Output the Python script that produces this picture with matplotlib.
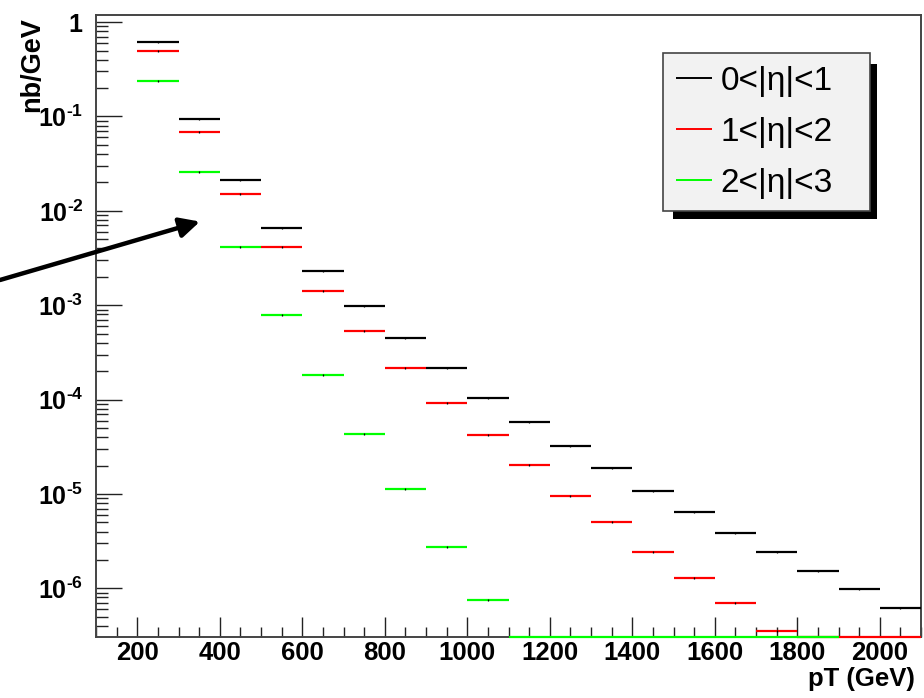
import numpy as np
import matplotlib
matplotlib.use("Agg")
import matplotlib.pyplot as plt
from matplotlib.ticker import FixedLocator, MultipleLocator, LogLocator, FuncFormatter, NullFormatter
from matplotlib.patches import Rectangle

# ---------------- data ----------------
bin_edges = [200, 300, 400, 500, 600, 700, 800, 900, 1000, 1100, 1200, 1300,
             1400, 1500, 1600, 1700, 1800, 1900, 2000, 2100]

eta01 = [0.62, 0.0946, 0.0213, 0.00651, 0.00232, 0.00098, 4.45e-4, 2.16e-4,
         1.05e-4, 5.74e-5, 3.25e-5, 1.88e-5, 1.07e-5, 6.49e-6, 3.89e-6,
         2.43e-6, 1.54e-6, 9.93e-7, 6.2e-7]
eta12 = [0.489, 0.0677, 0.01507, 0.00414, 0.0014, 5.33e-4, 2.16e-4, 9.2e-5,
         4.18e-5, 2.04e-5, 9.5e-6, 5.0e-6, 2.43e-6, 1.29e-6, 6.94e-7,
         3.5e-7, 0.0, 0.0, 0.0]
eta23 = [0.239, 0.0258, 0.00414, 7.87e-4, 1.82e-4, 4.32e-5, 1.14e-5, 2.72e-6,
         7.46e-7, 0.0, 0.0, 0.0, 0.0, 0.0, 0.0, 0.0, 0.0, np.nan, np.nan]

series_labels = ["0<|η|<1", "1<|η|<2", "2<|η|<3"]
series_colors = ["#000000", "#ff0000", "#00ff00"]

x_major_ticks = [200, 400, 600, 800, 1000, 1200, 1400, 1600, 1800, 2000]
y_major_ticks = [1e-6, 1e-5, 1e-4, 1e-3, 1e-2, 1e-1, 1.0]
xlim = (100, 2100)
ylim = (3.05e-7, 1.19)

# ---------------- style ----------------
plt.rcParams['font.family'] = ['Liberation Sans', 'DejaVu Sans']
plt.rcParams['mathtext.fontset'] = 'custom'
plt.rcParams['mathtext.rm'] = 'Liberation Sans:bold'
plt.rcParams['mathtext.bf'] = 'Liberation Sans:bold'
plt.rcParams['mathtext.it'] = 'Liberation Sans:italic'

W, H = 924, 698
fig = plt.figure(figsize=(W / 100, H / 100), dpi=100)
ax_l, ax_r, ax_t, ax_b = 96, 921, 15, 637
ax = fig.add_axes([ax_l / W, 1 - ax_b / H, (ax_r - ax_l) / W, (ax_b - ax_t) / H])

ax.set_yscale('log')
ax.set_xlim(*xlim)
ax.set_ylim(*ylim)

edges = np.array(bin_edges, dtype=float)
lo, hi = edges[:-1], edges[1:]
centers = 0.5 * (lo + hi)

for vals, col, lab in zip([eta01, eta12, eta23], series_colors, series_labels):
    v = np.array(vals, dtype=float)
    pos = v > 0
    zero = v == 0
    ax.hlines(v[pos], lo[pos], hi[pos], colors=col, lw=1.6, label=lab, zorder=3)
    # empty bins drawn on the bottom frame as ROOT does
    if zero.any():
        ax.hlines(np.full(zero.sum(), ylim[0]), lo[zero], hi[zero], colors=col,
                  lw=1.6, zorder=4, clip_on=False)
    ax.plot(centers[pos], v[pos], ls='none', marker='|', ms=1.6, mew=0.9,
            color='#000000', zorder=5)

# frame
for s in ax.spines.values():
    s.set_color('#444444')
    s.set_linewidth(1.4)

# ticks
ax.xaxis.set_major_locator(FixedLocator(x_major_ticks))
ax.xaxis.set_minor_locator(MultipleLocator(50))
ax.xaxis.set_minor_formatter(NullFormatter())
ax.yaxis.set_major_locator(FixedLocator(y_major_ticks))
ax.yaxis.set_minor_locator(LogLocator(base=10, subs=np.arange(2, 10), numticks=20))
ax.yaxis.set_minor_formatter(NullFormatter())


def yfmt(v, pos):
    e = int(round(np.log10(v)))
    if e == 0:
        return r'$\mathbf{1}$'
    return r'$\mathbf{10}^{\text{-%d}}$' % (-e)


ax.yaxis.set_major_formatter(FuncFormatter(yfmt))
ax.tick_params(axis='both', which='both', direction='in', colors='#222222',
               top=False, right=False)
ax.tick_params(axis='x', which='major', length=14.5, width=1.0, pad=3,
               labelsize=18.5)
ax.tick_params(axis='x', which='minor', length=7, width=1.0)
ax.tick_params(axis='y', which='major', length=18.5, width=1.0, pad=9,
               labelsize=18)
ax.tick_params(axis='y', which='minor', length=8.7, width=1.0)
for t in ax.get_xticklabels():
    t.set_fontweight('bold')
    t.set_color('black')
for t in ax.get_yticklabels():
    t.set_color('black')

ax.set_xlabel('pT (GeV)', fontsize=18.5, fontweight='bold', loc='right')
ax.xaxis.set_label_coords((915 - ax_l) / (ax_r - ax_l), (ax_b - 667) / (ax_b - ax_t))
ax.xaxis.label.set_va('top')
ax.set_ylabel('nb/GeV', fontsize=19.5, fontweight='bold', loc='top')
ax.yaxis.set_label_coords((45 - ax_l) / (ax_r - ax_l), (ax_b - 17) / (ax_b - ax_t))

# arrow
ax.annotate('', xy=(352, 0.0077), xycoords='data',
            xytext=(0.0, 1 - 280 / H), textcoords='figure fraction',
            arrowprops=dict(arrowstyle='-|>,head_length=1.2,head_width=0.6',
                            color='black', lw=3.2, shrinkA=0, shrinkB=0),
            annotation_clip=False, zorder=6)

# legend
aw, ah = ax_r - ax_l, ax_b - ax_t
lx0 = (663 - ax_l) / aw
lx1 = (870 - ax_l) / aw
ly1 = (ax_b - 53) / ah
ly0 = (ax_b - 209) / ah
leg = ax.legend(loc='upper left', bbox_to_anchor=(lx0, ly0, lx1 - lx0, ly1 - ly0),
                mode='expand', fontsize=24, frameon=True, fancybox=False,
                framealpha=1, facecolor='#f2f2f2', edgecolor='#444444',
                handlelength=1.1, handletextpad=0.25, borderpad=0.38,
                labelspacing=0.6, borderaxespad=0.0)
leg.get_frame().set_linewidth(1.2)
for line in leg.get_lines():
    line.set_linewidth(1.4)
leg.set_zorder(10)

fig.canvas.draw()
bb = leg.get_window_extent()
shadow = Rectangle((bb.x0 + 10, bb.y0 - 8), bb.width - 3, bb.height - 3,
                   transform=None, facecolor='black', edgecolor='none', zorder=9)
ax.add_artist(shadow)
shadow.set_clip_on(False)

fig.savefig('out.png', dpi=100)
